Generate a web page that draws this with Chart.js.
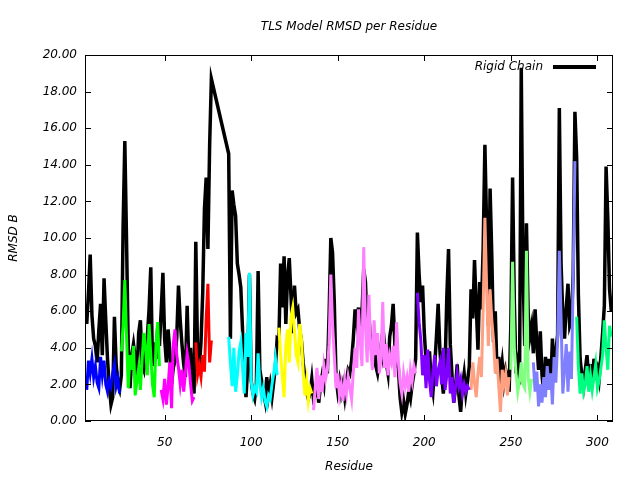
<!DOCTYPE html>
<html>
<head>
<meta charset="utf-8">
<title>TLS Model RMSD per Residue</title>
<script src="https://cdn.jsdelivr.net/npm/chart.js@4.4.1/dist/chart.umd.min.js"></script>
<style>
  html, body { margin: 0; padding: 0; background: #fff; }
  canvas { display: block; }
</style>
</head>
<body>
<canvas id="rmsdChart" width="640" height="480"></canvas>
<script>
// ===== Data (residue 5 .. 308, null = residue missing) =====
const firstResidue = 5;

const rigidRmsd = [
  5.3, 7.0, 9.1, 5.8, 4.5, 4.1, 3.2, 5.0, 6.4, 3.6, 7.8, 5.5, 3.4, 1.9, 0.9, 1.3, 5.7, 3.1, 2.0, 1.7,
  2.5, 10.6, 15.3, 9.8, 4.0, 1.8, 3.6, 4.2, 3.4, 2.5, 4.8, 5.5, 3.1, 2.8, 3.9, 4.6, 6.1, 8.4, 3.0, 4.3, 3.4, 5.1, 4.1,
  6.0, 8.1, 4.5, 3.2, 5.0, 3.8, 2.0, 2.9, 3.3, 4.6, 7.4, 5.5, 4.2, 3.1, 2.4, 6.3, 3.0, 4.0, 2.2, 1.5,
  9.8, 3.8, 2.9, 4.3, 7.0, 11.6, 13.3, 9.4, 15.1, 18.7,
  null, null, null, null, null, null, null, null, null,
  14.6, 4.5, 12.6, 11.8, 11.2, 8.6, 8.0, 7.3, 5.0, 2.6, 1.3, 3.0, 8.0, 2.2, 1.5, 1.2, 2.0, 8.2, 2.8, 2.2, 1.6, 1.1, 2.4, 1.4, 2.0, 1.3, 2.1, 3.0, 4.5,
  4.4, 8.6, 6.2, 9.0, 5.3, 7.9, 8.9, 6.8, 4.8, 7.4, 5.9, 6.1, 5.0, 4.4, 3.2, 2.4, 1.6, 1.2, 1.5, 2.3,
  1.2, 1.4, 2.2, 1.0, 1.9, 2.5, 2.0, 3.4, 2.6, 5.8,
  10.0, 9.2, 6.5, 2.4, 1.6, 2.2, 1.5, 2.0, 1.3, 2.2,
  2.8, 2.6, 3.3, 4.5, 6.1, 5.4, 6.2, 4.8, 5.9, 8.3,
  7.6, 5.0, 5.8, 4.3, 3.6, 4.7, 3.0, 2.6, 3.3, 4.1,
  3.5, 4.2, 3.2, 2.6, 4.6, 5.2, 6.4, 4.2, 3.1, 2.9,
  1.3, 0.5, 1.1, 0.4, 0.9, 1.6, 1.2, 2.0, 2.6, 3.4,
  10.3, 8.0, 6.5, 7.4, 4.8, 3.3, 2.5, 3.8, 2.2, 1.6, 3.0, 4.6, 6.4, 3.9, 2.5, 1.5, 2.9, 6.8, 9.4, 4.2, 2.5, 1.0, 1.8, 3.1, 1.4, 0.5, 1.9, 2.6, 1.5, 2.2, 3.0,
  7.2, 5.6, 8.8, 6.3, 3.9, 7.6, 6.1, 9.5, 15.1, 10.6, 5.2, 12.7, 9.0, 4.3, 6.0, 2.6, 3.5, 2.4, 3.2, 2.1, 2.8, 2.4, 1.6,
  5.3, 13.3, 6.5, 2.6, 3.2, 2.0, 19.3, 8.5, 4.1, 10.8, 5.9, 4.6, 5.2,
  3.7, 6.1, 4.2, 2.8, 4.9, 2.5, 1.5, 3.5, 2.2, 3.4, 1.8, 4.5, 2.6, 3.8, 4.7, 17.1, 8.6, 5.8, 4.5, 6.2, 7.5, 5.2, 5.5, 8.0, 16.9,
  14.4, 6.9, 3.4, 2.5, 1.9, 2.8, 3.6, 2.2, 3.1, 2.0, 3.4, 2.6, 2.9, 2.3, 3.5, 4.8, 6.3, 13.9, 11.1, 7.2, 6.0
];

const tlsRmsd = [
  1.7, 3.3, 2.6, 3.4, 2.4, 3.0, 2.1, 1.8, 3.5, 2.5, 3.3, 2.0, 1.6, 2.2, 1.9, 2.6, 3.1, 1.9, 2.3, 1.5,
  3.8, 5.2, 7.7, 4.6, 1.8, 3.6, 2.8, 4.1, 1.4, 2.2, 2.9, 1.7, 3.4, 4.8, 4.0, 2.5, 5.3, 3.6, 2.0, 1.3, 4.2, 5.4, 3.0,
  1.7, 1.2, 2.3, 0.9, 1.9, 3.2, 0.7, 4.2, 5.0, 3.6, 2.9, 2.0, 2.8, 1.6, 2.6, 3.7, 3.1, 2.0, 1.1, 1.3,
  4.3, 2.5, 3.0, 2.4, 3.6, 2.7, 5.6, 7.5, 3.2, 4.4,
  null, null, null, null, null, null, null, null, null,
  4.6, 3.2, 1.9, 4.0, 1.6, 2.5, 3.8, 4.3, 2.9, 1.5, 4.8, 3.5, 8.1, 2.2, 1.4, 1.8, 1.6, 3.7, 2.0, 1.3, 1.8, 1.1, 0.8, 1.4, 1.2, 2.0, 2.6, 3.4, 2.5,
  5.1, 3.6, 2.5, 1.3, 4.1, 5.0, 3.2, 5.7, 6.2, 4.9, 3.6, 3.2, 5.3, 4.5, 2.7, 1.4, 2.2, 1.1, 1.8, 1.5,
  0.6, 1.8, 2.9, 1.2, 2.5, 1.6, 3.0, 2.3, 2.8, 4.2,
  8.0, 5.3, 3.6, 1.8, 2.6, 1.4, 2.0, 1.1, 2.2, 1.5,
  2.4, 1.8, 1.2, 2.7, 4.0, 2.9, 6.1, 4.4, 3.0, 9.5,
  5.2, 3.2, 6.9, 4.0, 2.8, 5.5, 3.6, 4.8, 2.6, 3.4,
  6.5, 2.9, 4.2, 2.5, 3.6, 3.2, 4.1, 2.4, 5.4, 3.3,
  2.1, 1.5, 2.6, 1.9, 2.4, 1.6, 2.8, 2.2, 3.0, 2.6,
  7.0, 5.4, 4.4, 2.5, 3.6, 1.8, 3.9, 2.2, 1.3, 2.7, 3.6, 1.9, 2.8, 3.2, 2.0, 4.0, 1.7, 2.5, 4.0, 1.5, 2.4, 1.0, 1.8, 2.6, 1.9, 2.3, 1.5, 2.0, 1.6, 1.9, 1.7,
  1.7, 3.2, 2.1, 1.3, 2.6, 3.5, 2.4, 6.2, 11.1, 7.3, 4.1, 7.2, 5.5, 4.4, 2.6, 3.4, 1.9, 0.5, 2.8, 2.0, 2.6, 1.4, 2.4,
  2.8, 8.7, 4.0, 2.6, 1.6, 2.2, 3.2, 2.0, 1.8, 9.3, 2.4, 1.6, 2.3,
  3.2, 1.6, 2.7, 0.8, 2.0, 1.0, 2.4, 1.3, 3.0, 1.7, 2.6, 0.9, 3.5, 2.1, 4.4, 9.3, 5.6, 1.5, 2.8, 4.2, 1.6, 3.8, 2.3, 7.8, 14.2,
  5.7, 3.0, 1.5, 2.6, 1.6, 2.0, 3.0, 1.6, 2.5, 1.7, 2.4, 3.1, 1.8, 2.2, 2.9, 3.6, 5.5, 4.0, 2.8, 5.2, 4.6
];

// TLS groups (residue ranges)
const groupStart = [5, 25, 48, 68, 87, 116, 136, 196, 227, 250, 263, 288];
const groupEnd   = [24, 47, 67, 77, 115, 135, 195, 226, 249, 262, 287, 308];
const groupColors = ['#0000ff', '#00ff00', '#ff00ff', '#ff0000', '#00ffff', '#ffff00',
                     '#ff80ff', '#8000ff', '#ffa080', '#80ff80', '#8080ff', '#00ff80'];

const xTicks = [50, 100, 150, 200, 250, 300];
const yTicks = [0, 2, 4, 6, 8, 10, 12, 14, 16, 18, 20];

// ===== Helpers =====
function toPoints(values, from, to) {
  const pts = [];
  for (let r = from; r <= to; r++) {
    const v = values[r - firstResidue];
    if (v !== null && v !== undefined) pts.push({ x: r, y: v });
  }
  return pts;
}

const font = { family: 'DejaVu Sans', size: 12, style: 'italic', weight: 'normal' };

const datasets = groupStart.map((s, i) => ({
  label: 'TLS group ' + (i + 1),
  data: toPoints(tlsRmsd, s, groupEnd[i]),
  borderColor: groupColors[i],
  borderWidth: 3,
  pointRadius: 0,
  tension: 0,
  order: 0
}));

datasets.push({
  label: 'Rigid Chain',
  data: toPoints(rigidRmsd, firstResidue, firstResidue + rigidRmsd.length - 1),
  borderColor: '#000000',
  borderWidth: 3.5,
  pointRadius: 0,
  tension: 0,
  order: 1
});

// ===== Frame, inward ticks and key (gnuplot look) =====
const framePlugin = {
  id: 'frame',
  afterDraw(chart) {
    const { ctx, chartArea: a, scales: { x, y } } = chart;
    ctx.save();
    ctx.strokeStyle = '#000';
    ctx.lineWidth = 1;
    ctx.strokeRect(a.left + 0.5, a.top + 0.5, a.right - a.left - 1, a.bottom - a.top - 1);
    ctx.beginPath();
    x.ticks.forEach(t => {
      const px = Math.round(x.getPixelForValue(t.value)) + 0.5;
      ctx.moveTo(px, a.bottom); ctx.lineTo(px, a.bottom - 6);
      ctx.moveTo(px, a.top); ctx.lineTo(px, a.top + 6);
    });
    y.ticks.forEach(t => {
      const py = Math.round(y.getPixelForValue(t.value)) + 0.5;
      ctx.moveTo(a.left, py); ctx.lineTo(a.left + 6, py);
      ctx.moveTo(a.right, py); ctx.lineTo(a.right - 6, py);
    });
    ctx.stroke();

    // key
    const rigid = chart.data.datasets[chart.data.datasets.length - 1];
    const ky = a.top + 12;
    ctx.font = 'italic 12px "DejaVu Sans"';
    ctx.fillStyle = '#000';
    ctx.textAlign = 'right';
    ctx.textBaseline = 'middle';
    ctx.fillText(rigid.label, a.right - 70, ky);
    ctx.strokeStyle = rigid.borderColor;
    ctx.lineWidth = 4;
    ctx.beginPath();
    ctx.moveTo(a.right - 60, ky);
    ctx.lineTo(a.right - 17, ky);
    ctx.stroke();
    ctx.restore();
  }
};

// ===== Chart =====
new Chart(document.getElementById('rmsdChart'), {
  type: 'line',
  data: { datasets: datasets },
  options: {
    responsive: false,
    animation: false,
    layout: { padding: { left: 0, right: 27, top: 0, bottom: 0 } },
    plugins: {
      legend: { display: false },
      tooltip: { enabled: false },
      title: {
        display: true,
        fullSize: false,
        text: 'TLS Model RMSD per Residue',
        color: '#000',
        font: font,
        padding: { top: 20, bottom: 20.6 }
      }
    },
    scales: {
      x: {
        type: 'linear',
        min: 4,
        max: 309,
        afterFit: s => { s.height = 59; },
        afterBuildTicks: s => { s.ticks = xTicks.map(v => ({ value: v })); },
        grid: { display: false },
        border: { display: false },
        ticks: { color: '#000', font: font, padding: 7, maxRotation: 0 },
        title: { display: true, text: 'Residue', color: '#000', font: font, padding: { bottom: 6 } }
      },
      y: {
        min: 0,
        max: 20,
        afterFit: s => { s.width = 85; },
        afterBuildTicks: s => { s.ticks = yTicks.map(v => ({ value: v })); },
        grid: { display: false },
        border: { display: false },
        ticks: { color: '#000', font: font, padding: 0, callback: v => v.toFixed(2) },
        title: { display: true, text: 'RMSD B', color: '#000', font: font, padding: { top: 7 } }
      }
    }
  },
  plugins: [framePlugin]
});
</script>
</body>
</html>
